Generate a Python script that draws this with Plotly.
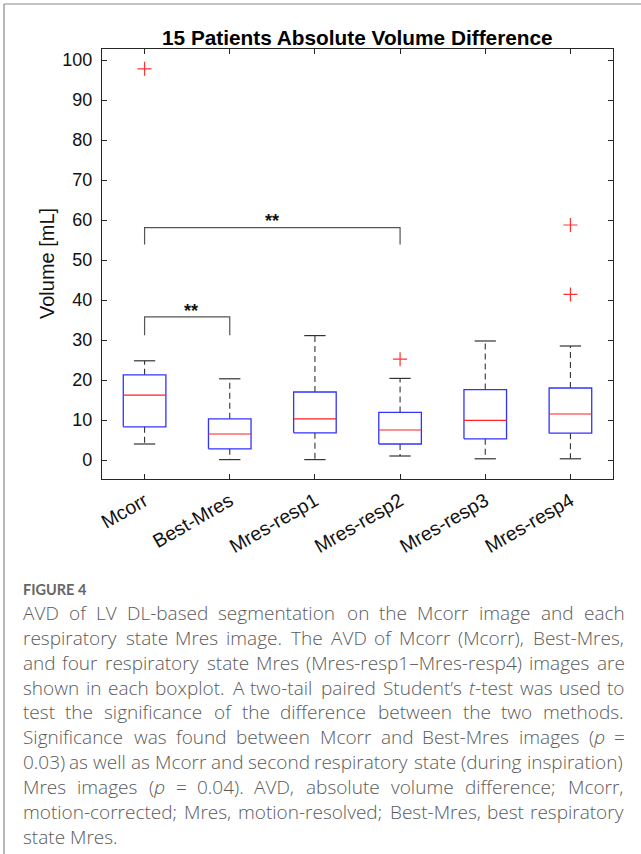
import re
import plotly.graph_objects as go

# ---------------- data ----------------
categories = ["Mcorr", "Best-Mres", "Mres-resp1", "Mres-resp2", "Mres-resp3", "Mres-resp4"]
q1_vals = [8.3, 2.8, 6.8, 4.0, 5.3, 6.7]
median_vals = [16.2, 6.5, 10.3, 7.5, 9.9, 11.5]
q3_vals = [21.3, 10.3, 17.0, 11.9, 17.6, 18.0]
lower_whisker = [4.0, 0.1, 0.1, 1.0, 0.3, 0.3]
upper_whisker = [24.8, 20.3, 31.1, 20.4, 29.75, 28.5]

outlier_group = [0, 3, 5, 5]
outlier_vals = [97.8, 25.2, 58.75, 41.4]

bracket_from = [0, 0]
bracket_to = [1, 3]
bracket_top = [35.8, 58.1]
bracket_leg = [31.2, 53.9]
bracket_label = ["**", "**"]
bracket_label_y = [38.6, 61.0]

y_ticks = [0, 10, 20, 30, 40, 50, 60, 70, 80, 90, 100]

title_text = "15 Patients Absolute Volume Difference"
y_title = "Volume [mL]"
figure_label = "FIGURE 4"
caption_lines = [
    "AVD of LV DL-based segmentation on the Mcorr image and each",
    "respiratory state Mres image. The AVD of Mcorr (Mcorr), Best-Mres,",
    "and four respiratory state Mres (Mres-resp1\u2013Mres-resp4) images are",
    "shown in each boxplot. A two-tail paired Student\u2019s <i>t</i>-test was used to",
    "test the significance of the difference between the two methods.",
    "Significance was found between Mcorr and Best-Mres images (<i>p</i> =",
    "0.03) as well as Mcorr and second respiratory state (during inspiration)",
    "Mres images (<i>p</i> = 0.04). AVD, absolute volume difference; Mcorr,",
    "motion-corrected; Mres, motion-resolved; Best-Mres, best respiratory",
    "state Mres.",
]

# ---------------- layout geometry ----------------
W, H = 641, 854
L, R, T, B = 102, 613, 49, 479   # plot area in pixels
BOX_HALF = 0.25
CAP_HALF = 0.125
AX = "#262626"

CAP_LEFT, CAP_RIGHT = 21, 623
CAP_SIZE = 19
CAP_Y0, CAP_DY = 613, 24.85

# approximate Open Sans advance widths (em) used to justify the caption lines
OS_W = {
    " ": .26, "a": .556, "b": .613, "c": .476, "d": .613, "e": .561, "f": .339, "g": .548, "h": .614,
    "i": .253, "j": .253, "k": .525, "l": .253, "m": .93, "n": .614, "o": .604, "p": .613, "q": .613,
    "r": .408, "s": .477, "t": .353, "u": .614, "v": .501, "w": .778, "x": .524, "y": .502, "z": .477,
    "A": .633, "B": .648, "C": .631, "D": .729, "E": .556, "F": .516, "L": .517, "M": .903, "R": .639,
    "S": .556, "T": .548, "V": .593, ".": .266, ",": .266, "(": .29, ")": .29, "-": .322, "\u2013": .5,
    "\u2019": .17, ";": .266, "=": .572, "0": .572, "1": .572, "2": .572, "3": .572, "4": .572,
}
LIGHT_FACTOR = 0.975


def text_width(s):
    plain = re.sub(r"<[^>]+>", "", s)
    return sum(OS_W.get(ch, .56) for ch in plain) * CAP_SIZE * LIGHT_FACTOR


def px_x(px):
    return (px - L) / (R - L)


def px_y(py):
    return (B - py) / (B - T)


pos = [i + 1 for i in range(len(categories))]

# whiskers
wx, wy = [], []
for p, lo, q1, q3, hi in zip(pos, lower_whisker, q1_vals, q3_vals, upper_whisker):
    wx += [p, p, None, p, p, None]
    wy += [q3, hi, None, q1, lo, None]
# caps
cx, cy = [], []
for p, lo, hi in zip(pos, lower_whisker, upper_whisker):
    cx += [p - CAP_HALF, p + CAP_HALF, None, p - CAP_HALF, p + CAP_HALF, None]
    cy += [hi, hi, None, lo, lo, None]
# boxes
bx, by = [], []
for p, q1, q3 in zip(pos, q1_vals, q3_vals):
    bx += [p - BOX_HALF, p + BOX_HALF, p + BOX_HALF, p - BOX_HALF, p - BOX_HALF, None]
    by += [q1, q1, q3, q3, q1, None]
# medians
mx, my = [], []
for p, m in zip(pos, median_vals):
    mx += [p - BOX_HALF, p + BOX_HALF, None]
    my += [m, m, None]
# brackets
kx, ky = [], []
for a, b, top, leg in zip(bracket_from, bracket_to, bracket_top, bracket_leg):
    kx += [pos[a], pos[a], pos[b], pos[b], None]
    ky += [leg, top, top, leg, None]

fig = go.Figure()
fig.add_trace(go.Scatter(x=wx, y=wy, mode="lines", line=dict(color="#333333", width=1.1, dash="6px,4px"),
                         hoverinfo="skip", showlegend=False))
fig.add_trace(go.Scatter(x=cx, y=cy, mode="lines", line=dict(color="#333333", width=1.2),
                         hoverinfo="skip", showlegend=False))
fig.add_trace(go.Scatter(x=bx, y=by, mode="lines", line=dict(color="#3333ff", width=1.3),
                         hoverinfo="skip", showlegend=False))
fig.add_trace(go.Scatter(x=mx, y=my, mode="lines", line=dict(color="#ff2020", width=1.2),
                         hoverinfo="skip", showlegend=False))
fig.add_trace(go.Scatter(x=[pos[g] for g in outlier_group], y=outlier_vals, mode="markers",
                         marker=dict(symbol="cross-thin", size=10, line=dict(color="#ff3333", width=1.2)),
                         hoverinfo="skip", showlegend=False))
fig.add_trace(go.Scatter(x=kx, y=ky, mode="lines", line=dict(color="#555555", width=1.2),
                         hoverinfo="skip", showlegend=False))

annotations = []
for a, b, lab, ly in zip(bracket_from, bracket_to, bracket_label, bracket_label_y):
    annotations.append(dict(x=(pos[a] + pos[b]) / 2 + (0.04 if b - a == 1 else 0.0), y=ly,
                            xref="x", yref="y", text="<b>" + lab + "</b>", showarrow=False,
                            font=dict(family="Liberation Sans", size=18, color="#111111"),
                            xanchor="center", yanchor="middle", yshift=-5))

# y-axis title
annotations.append(dict(x=px_x(47), y=px_y(264), xref="paper", yref="paper", text=y_title,
                        textangle=-90, showarrow=False, xanchor="center", yanchor="middle",
                        font=dict(family="Liberation Sans", size=20, color="#111111")))
# chart title
annotations.append(dict(x=0.5, y=px_y(37), xref="paper", yref="paper", text="<b>" + title_text + "</b>",
                        showarrow=False, xanchor="center", yanchor="middle",
                        font=dict(family="Liberation Sans", size=20.8, color="#000000")))
# caption
annotations.append(dict(x=px_x(CAP_LEFT), y=px_y(589), xref="paper", yref="paper",
                        text="<b>" + figure_label + "</b>",
                        showarrow=False, xanchor="left", yanchor="middle",
                        font=dict(family="Lato", size=14.5, color="#666666")))
cap_font = dict(family="Open Sans", size=CAP_SIZE, color="#5a5a5a", weight=300)
for i, line in enumerate(caption_lines):
    ypos = px_y(CAP_Y0 + i * CAP_DY)
    words = line.split(" ")
    last_line = i == len(caption_lines) - 1
    if last_line or len(words) < 2:
        annotations.append(dict(x=px_x(CAP_LEFT), y=ypos, xref="paper", yref="paper", text=line,
                                showarrow=False, xanchor="left", yanchor="middle", font=cap_font))
        continue
    widths = [text_width(w) for w in words]
    gap = (CAP_RIGHT - CAP_LEFT - sum(widths)) / (len(words) - 1)
    xcur = CAP_LEFT
    for w, wd in zip(words, widths):
        annotations.append(dict(x=px_x(xcur), y=ypos, xref="paper", yref="paper", text=w,
                                showarrow=False, xanchor="left", yanchor="middle", font=cap_font))
        xcur += wd + gap

shapes = [
    dict(type="line", xref="paper", yref="paper", x0=px_x(4), x1=px_x(W), y0=px_y(4), y1=px_y(4),
         line=dict(color="#8a8a8a", width=1.2)),
    dict(type="line", xref="paper", yref="paper", x0=px_x(4), x1=px_x(4), y0=px_y(4), y1=px_y(H),
         line=dict(color="#8a8a8a", width=1.2)),
]

fig.update_layout(
    width=W, height=H,
    margin=dict(l=L, r=W - R, t=T, b=H - B, autoexpand=False),
    paper_bgcolor="white", plot_bgcolor="white",
    showlegend=False,
    annotations=annotations,
    shapes=shapes,
    xaxis=dict(range=[0.5, 6.5], tickmode="array", tickvals=pos, ticktext=categories,
               ticks="inside", ticklen=5, tickwidth=1, tickcolor=AX,
               showline=True, linecolor=AX, linewidth=1.2, mirror="ticks",
               showgrid=False, zeroline=False, tickangle=-30, ticklabelstandoff=2,
               tickfont=dict(family="Liberation Sans", size=19.5, color="#111111")),
    yaxis=dict(range=[-4.75, 102.75], tickmode="array", tickvals=y_ticks,
               ticks="inside", ticklen=5, tickwidth=1, tickcolor=AX,
               showline=True, linecolor=AX, linewidth=1.2, mirror="ticks",
               showgrid=False, zeroline=False, ticklabelstandoff=5,
               tickfont=dict(family="Liberation Sans", size=18, color="#111111")),
)

fig.write_html("out.html", config={"displayModeBar": False},
               post_script="document.body.style.margin='0';document.body.style.overflow='hidden';")
